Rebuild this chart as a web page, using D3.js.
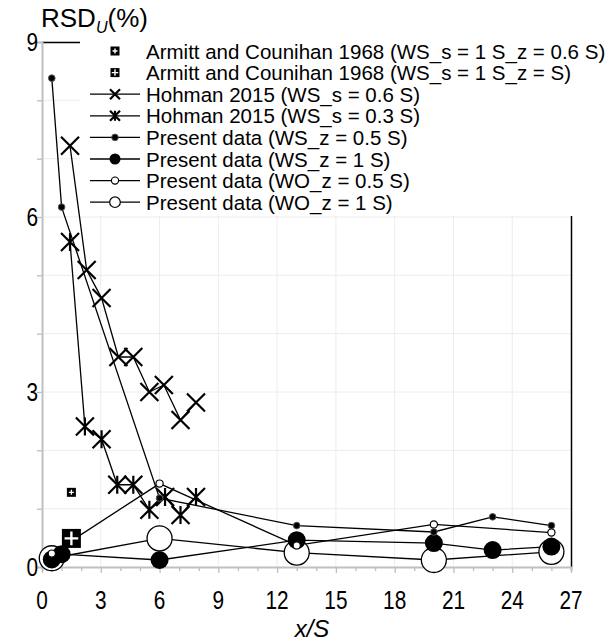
<!DOCTYPE html>
<html>
<head>
<meta charset="utf-8">
<script src="https://cdnjs.cloudflare.com/ajax/libs/d3/7.8.5/d3.min.js"></script>
<style>
  body { margin: 0; background: #fff; }
  svg { font-family: "Liberation Sans", Arial, sans-serif; }
</style>
</head>
<body>
<div id="chart"></div>
<script>
// data
var wsX = [0.5, 1, 6, 13, 20, 23, 26];
var wsZ05 = [8.38, 6.17, 1.18, 0.71, 0.6, 0.86, 0.71];
var wsZ1 = [0.13, 0.22, 0.12, 0.46, 0.41, 0.29, 0.35];
var woX = [0.5, 6, 13, 20, 26];
var woZ05 = [0.23, 1.43, 0.37, 0.73, 0.59];
var woZ1 = [0.15, 0.49, 0.245, 0.12, 0.26];
var hohX06 = [1.43, 2.28, 3.04, 3.9, 4.66, 5.48, 6.22, 7.07, 7.86];
var hoh06 = [7.22, 5.09, 4.61, 3.6, 3.6, 3.0, 3.12, 2.52, 2.82];
var hohX03 = [1.43, 2.19, 3.04, 3.84, 4.66, 5.48, 6.28, 7.07, 7.86];
var hoh03 = [5.57, 2.41, 2.19, 1.41, 1.41, 0.98, 1.2, 0.89, 1.2];
var armittX = [1.5];
var armitt06 = [1.28];
var armitt1 = [0.49];
var xTicks = [0, 3, 6, 9, 12, 15, 18, 21, 24, 27];
var yTicks = [0, 3, 6, 9];
var legendNames = [
  "Armitt and Counihan 1968 (WS_s = 1 S_z = 0.6 S)",
  "Armitt and Counihan 1968 (WS_s = 1 S_z = S)",
  "Hohman 2015 (WS_s = 0.6 S)",
  "Hohman 2015 (WS_s = 0.3 S)",
  "Present data (WS_z = 0.5 S)",
  "Present data (WS_z = 1 S)",
  "Present data (WO_z = 0.5 S)",
  "Present data (WO_z = 1 S)"
];

function pairs(xs, ys) {
  return xs.map(function(x, i) { return [x, ys[i]]; });
}

var W = 612, H = 643;
var pL = 42, pR = 571, pT = 42, pB = 567;

var svg = d3.select("#chart").append("svg")
  .attr("width", W)
  .attr("height", H);

var x = d3.scaleLinear().domain([0, 27]).range([pL, pR]);
var y = d3.scaleLinear().domain([0, 9]).range([pB, pT]);

// gridlines
svg.append("g")
  .selectAll("line")
  .data(d3.range(3, 27, 3))
  .enter().append("line")
  .attr("x1", function(d) { return x(d); })
  .attr("x2", function(d) { return x(d); })
  .attr("y1", pT).attr("y2", pB)
  .attr("stroke", "#ececec").attr("stroke-width", 1);
svg.append("g")
  .selectAll("line")
  .data(d3.range(1, 10))
  .enter().append("line")
  .attr("x1", pL).attr("x2", pR)
  .attr("y1", function(d) { return y(d); })
  .attr("y2", function(d) { return y(d); })
  .attr("stroke", "#ececec").attr("stroke-width", 1);

// black frame (top and right)
svg.append("path")
  .attr("d", "M" + pL + "," + (pT + 0.5) + "H" + (pR + 0.5) + "V" + pB)
  .attr("fill", "none").attr("stroke", "#000").attr("stroke-width", 1.5);

// x axis
var xAxis = d3.axisBottom(x).tickValues(d3.range(0, 28, 1)).tickSize(4).tickFormat("");
var gx = svg.append("g").attr("transform", "translate(0," + pB + ")").call(xAxis);
gx.select(".domain").attr("stroke", "#bfbfbf").attr("stroke-width", 2);
gx.selectAll(".tick line").attr("stroke", "#bfbfbf").attr("stroke-width", 1.3)
  .attr("y2", function(d) { return d % 3 === 0 ? 6 : 4; });
svg.append("g").selectAll("text").data(xTicks).enter().append("text")
  .attr("transform", function(d) { return "translate(" + x(d) + ",609) scale(0.8,1)"; })
  .attr("text-anchor", "middle")
  .attr("font-size", 26)
  .text(function(d) { return d; });

// y axis
var yAxis = d3.axisLeft(y).tickValues(d3.range(0, 10, 1)).tickSize(5).tickFormat("");
var gy = svg.append("g").attr("transform", "translate(" + pL + ",0)").call(yAxis);
gy.select(".domain").attr("stroke", "#bfbfbf").attr("stroke-width", 2);
gy.selectAll(".tick line").attr("stroke", "#bfbfbf").attr("stroke-width", 1.3);
svg.append("g").selectAll("text").data(yTicks).enter().append("text")
  .attr("transform", function(d) { return "translate(38," + (y(d) + 9) + ") scale(0.8,1)"; })
  .attr("text-anchor", "end")
  .attr("font-size", 26)
  .text(function(d) { return d; });

// axis titles
var yt = svg.append("text").attr("x", 41).attr("y", 27).attr("font-size", 26);
yt.append("tspan").text("RSD");
yt.append("tspan").attr("font-size", 16).attr("font-style", "italic").attr("dy", 6).text("U");
yt.append("tspan").attr("dy", -6).text("(%)");
svg.append("text")
  .attr("x", 312).attr("y", 637)
  .attr("text-anchor", "middle")
  .attr("font-size", 24)
  .attr("font-style", "italic")
  .text("x/S");

// legend background
svg.append("rect")
  .attr("x", 80).attr("y", 34).attr("width", W - 80).attr("height", 182)
  .attr("fill", "#fff");

// lines
var line = d3.line().x(function(d) { return x(d[0]); }).y(function(d) { return y(d[1]); });
var lineSets = [pairs(hohX06, hoh06), pairs(hohX03, hoh03), pairs(wsX, wsZ05),
                pairs(wsX, wsZ1), pairs(woX, woZ05), pairs(woX, woZ1)];
svg.append("g").selectAll("path").data(lineSets).enter().append("path")
  .attr("d", line)
  .attr("fill", "none")
  .attr("stroke", "#000")
  .attr("stroke-width", 1.3);

// marker drawers
function drawCross(g, s, star) {
  var p = "M" + (-s) + "," + (-s) + "L" + s + "," + s + "M" + (-s) + "," + s + "L" + s + "," + (-s);
  if (star) p += "M0," + (-s) + "V" + s;
  g.append("path").attr("d", p).attr("stroke", "#000").attr("stroke-width", 2.2).attr("fill", "none");
}
function drawSquare(g, s, quad) {
  g.append("rect").attr("x", -s).attr("y", -s).attr("width", 2 * s).attr("height", 2 * s)
    .attr("fill", "#000");
  var a = quad ? s * 0.72 : s * 0.55;
  var w = quad ? Math.max(1.4, s * 0.25) : Math.max(1.4, s * 0.3);
  g.append("path").attr("d", "M" + (-a) + ",0H" + a + "M0," + (-a) + "V" + a)
    .attr("stroke", "#fff").attr("stroke-width", w);
}
function drawCircle(g, r, filled, sw) {
  g.append("circle").attr("r", r)
    .attr("fill", filled ? "#000" : "#fff")
    .attr("stroke", filled === "dot" ? "#555" : "#000")
    .attr("stroke-width", sw);
}

function markers(data, fn) {
  svg.append("g").selectAll("g").data(data).enter().append("g")
    .attr("transform", function(d) { return "translate(" + x(d[0]) + "," + y(d[1]) + ")"; })
    .each(function() { fn(d3.select(this)); });
}

markers(pairs(woX, woZ1), function(g) { drawCircle(g, 12.5, false, 1.3); });
markers(pairs(armittX, armitt06), function(g) { drawSquare(g, 4.5, false); });
markers(pairs(armittX, armitt1), function(g) { drawSquare(g, 9.5, true); });
markers(pairs(hohX06, hoh06), function(g) { drawCross(g, 9, false); });
markers(pairs(hohX03, hoh03), function(g) { drawCross(g, 9, true); });
markers(pairs(wsX, wsZ1), function(g) { drawCircle(g, 9, true, 0); });
markers(pairs(wsX, wsZ05), function(g) { drawCircle(g, 3.3, "dot", 1); });
markers(pairs(woX, woZ05), function(g) { drawCircle(g, 3.6, false, 1.2); });

// legend
var legendMarkers = [
  function(g) { drawSquare(g, 4.5, false); },
  function(g) { drawSquare(g, 4.5, true); },
  function(g) { drawCross(g, 5, false); },
  function(g) { drawCross(g, 5, true); },
  function(g) { drawCircle(g, 3.3, "dot", 1); },
  function(g) { drawCircle(g, 5.5, true, 0); },
  function(g) { drawCircle(g, 3.6, false, 1.2); },
  function(g) { drawCircle(g, 5.3, false, 1.2); }
];
var leg = svg.append("g").selectAll("g").data(legendNames).enter().append("g")
  .attr("transform", function(d, i) { return "translate(115," + (51 + i * 21.6) + ")"; });
leg.each(function(d, i) {
  var g = d3.select(this);
  if (i >= 2) {
    g.append("line").attr("x1", -25).attr("x2", 25).attr("stroke", "#000").attr("stroke-width", 1.3);
  }
  legendMarkers[i](g);
  g.append("text").attr("x", 31).attr("y", 7.5).attr("font-size", 20.5).text(d);
});
</script>
</body>
</html>
